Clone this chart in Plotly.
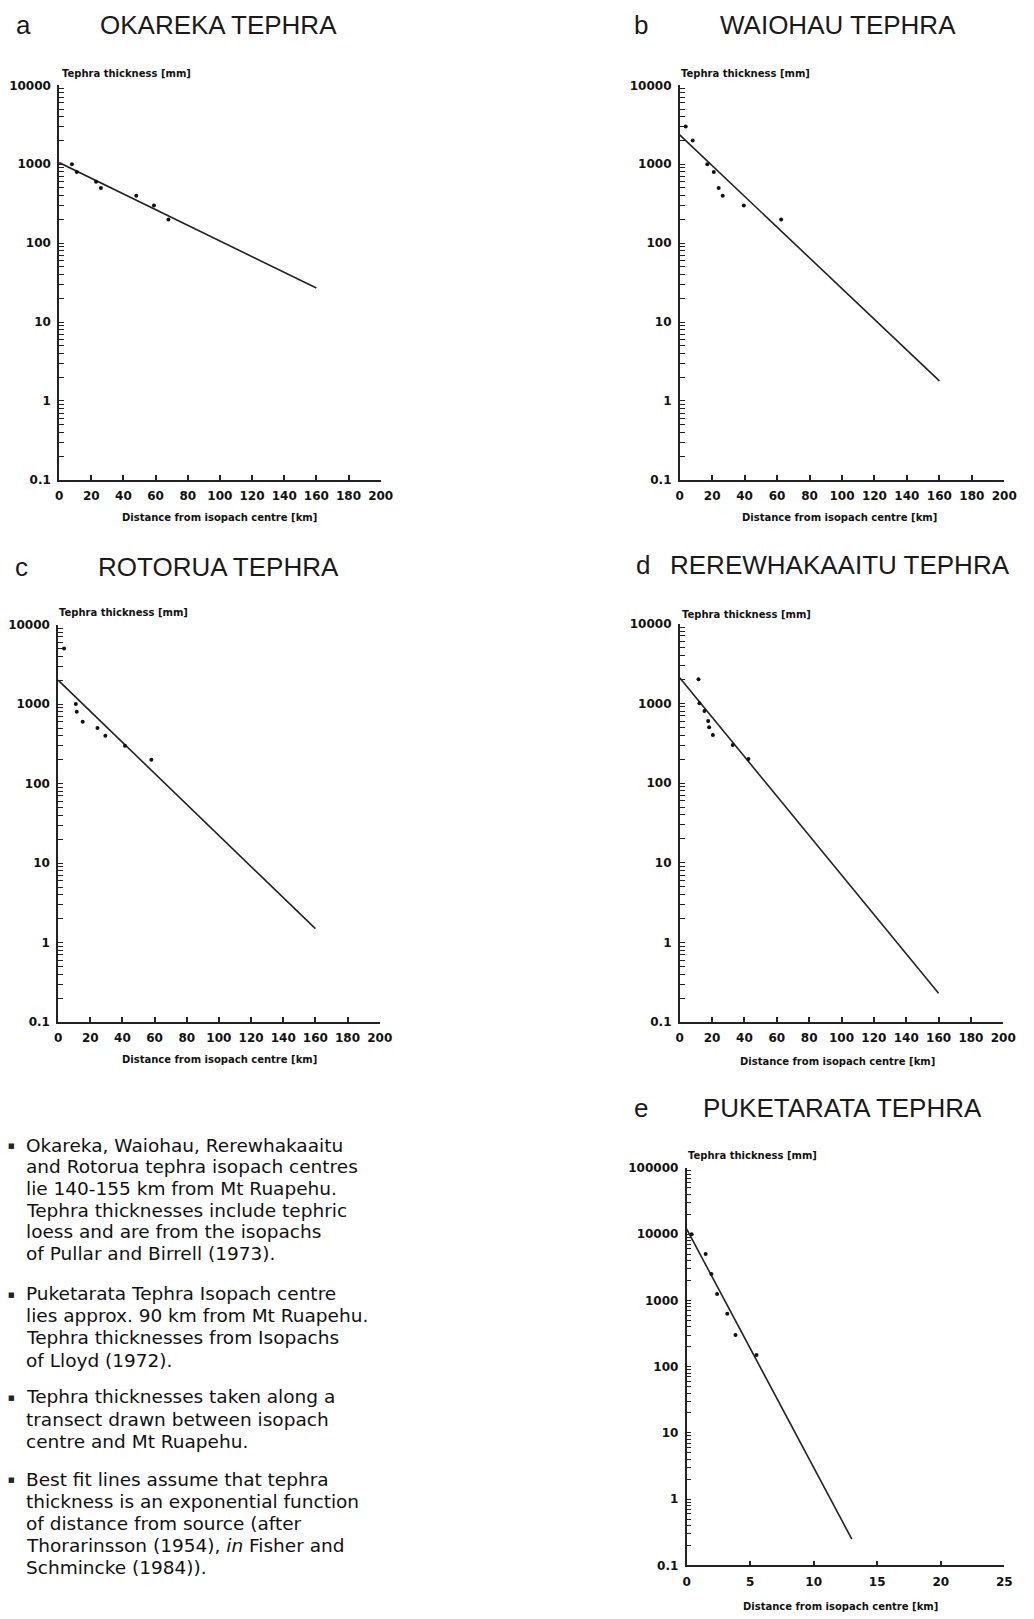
import plotly.graph_objects as go

W, H = 1034, 1619

# ---------------- data ----------------
okareka_x = [8, 11, 23, 26, 48, 59, 68]
okareka_y = [1000, 800, 600, 500, 400, 300, 200]
okareka_fit_x = [0, 160]
okareka_fit_y = [1050, 27]

waiohau_x = [3.7, 8, 17, 21, 24, 26.5, 39.5, 62.5]
waiohau_y = [3000, 2000, 1000, 800, 500, 400, 300, 200]
waiohau_fit_x = [0, 160]
waiohau_fit_y = [2350, 1.8]

rotorua_x = [3.7, 11, 11.6, 15.3, 24.5, 29.4, 41.6, 58]
rotorua_y = [5000, 1000, 800, 600, 500, 400, 300, 200]
rotorua_fit_x = [0, 160]
rotorua_fit_y = [2000, 1.5]

rerew_x = [11.6, 12.2, 15.3, 17.6, 18.2, 20.5, 32.8, 42.5]
rerew_y = [2000, 1000, 800, 600, 500, 400, 300, 200]
rerew_fit_x = [0, 160]
rerew_fit_y = [2100, 0.23]

puke_x = [0.4, 1.5, 1.95, 2.4, 3.2, 3.85, 5.5]
puke_y = [10000, 5000, 2500, 1250, 630, 300, 150]
puke_fit_x = [0, 13]
puke_fit_y = [12000, 0.25]

letters = ["a", "b", "c", "d", "e"]
titles = ["OKAREKA TEPHRA", "WAIOHAU TEPHRA", "ROTORUA TEPHRA",
          "REREWHAKAAITU TEPHRA", "PUKETARATA TEPHRA"]
y_title = "Tephra thickness [mm]"
x_title = "Distance from isopach centre [km]"

decade_labels = ["0.1", "1", "10", "100", "1000", "10000", "100000"]

para1 = ["Okareka, Waiohau, Rerewhakaaitu",
         "and Rotorua tephra isopach centres",
         "lie 140-155 km from Mt Ruapehu.",
         "Tephra thicknesses include tephric",
         "loess and are from the isopachs",
         "of Pullar and Birrell (1973)."]
para2 = ["Puketarata Tephra Isopach centre",
         "lies approx. 90 km from Mt Ruapehu.",
         "Tephra thicknesses from Isopachs",
         "of Lloyd (1972)."]
para3 = ["Tephra thicknesses taken along a",
         "transect drawn between isopach",
         "centre and Mt Ruapehu."]
para4 = ["Best fit lines assume that tephra",
         "thickness is an exponential function",
         "of distance from source (after",
         "Thorarinsson (1954), <i>in</i> Fisher and",
         "Schmincke (1984))."]

# ---------------- layout geometry (pixels) ----------------
panels = [
    dict(px=(56, 383), py=(79, 477), xr=[0, 200], dt=20, yr=[-1, 4],
         letter=(20, 18), title=(218, 18), ylab=(57, 67), xlab=(219, 515),
         data=(okareka_x, okareka_y, okareka_fit_x, okareka_fit_y)),
    dict(px=(687, 1017), py=(79, 477), xr=[0, 200], dt=20, yr=[-1, 4],
         letter=(648, 18), title=(848, 18), ylab=(686, 67), xlab=(849, 515),
         data=(waiohau_x, waiohau_y, waiohau_fit_x, waiohau_fit_y)),
    dict(px=(55, 382), py=(623, 1024), xr=[0, 200], dt=20, yr=[-1, 4],
         letter=(18, 565), title=(218, 565), ylab=(54, 611), xlab=(219, 1062),
         data=(rotorua_x, rotorua_y, rotorua_fit_x, rotorua_fit_y)),
    dict(px=(687, 1016), py=(622, 1024), xr=[0, 200], dt=20, yr=[-1, 4],
         letter=(650, 563), title=(850, 563), ylab=(687, 613), xlab=(847, 1064),
         data=(rerew_x, rerew_y, rerew_fit_x, rerew_fit_y)),
    dict(px=(694, 1017), py=(1171, 1572), xr=[0, 25], dt=5, yr=[-1, 5],
         letter=(648, 1111), title=(853, 1111), ylab=(693, 1159), xlab=(850, 1613),
         data=(puke_x, puke_y, puke_fit_x, puke_fit_y)),
]


def fx(p):
    return p / W


def fy(p):
    return 1 - p / H


def log_ticks(lo, hi):
    vals, text = [], []
    for e in range(lo, hi + 1):
        vals.append(10.0 ** e)
        text.append(decade_labels[e - lo])
        if e < hi:
            for m in range(2, 10):
                vals.append(m * 10.0 ** e)
                text.append("")
    return vals, text


fig = go.Figure()
annotations = []
tickfont = dict(family="DejaVu Sans", size=12, color="#111", weight="bold")
layout_axes = {}

for i, p in enumerate(panels, start=1):
    xs, ys, fxs, fys = p["data"]
    xa = "x" if i == 1 else f"x{i}"
    ya = "y" if i == 1 else f"y{i}"
    fig.add_trace(go.Scatter(x=fxs, y=fys, mode="lines", xaxis=xa, yaxis=ya,
                             line=dict(color="#222", width=1.6),
                             showlegend=False, hoverinfo="skip"))
    fig.add_trace(go.Scatter(x=xs, y=ys, mode="markers", xaxis=xa, yaxis=ya,
                             marker=dict(color="#111", size=4),
                             showlegend=False))
    xkey = "xaxis" if i == 1 else f"xaxis{i}"
    ykey = "yaxis" if i == 1 else f"yaxis{i}"
    layout_axes[xkey] = dict(
        domain=[fx(p["px"][0]), fx(p["px"][1])], range=p["xr"], anchor=ya,
        tickmode="linear", tick0=0, dtick=p["dt"],
        showline=True, linecolor="#222", linewidth=1.6, mirror=False,
        ticks="inside", ticklen=5, tickwidth=1.5, tickcolor="#222",
        showgrid=False, zeroline=False, tickfont=tickfont,
        ticklabelstandoff=4, fixedrange=True)
    lo, hi = p["yr"]
    tv, tt = log_ticks(lo, hi)
    layout_axes[ykey] = dict(
        domain=[fy(p["py"][1]), fy(p["py"][0])], range=p["yr"], type="log",
        anchor=xa, tickmode="array", tickvals=tv, ticktext=tt,
        showline=True, linecolor="#222", linewidth=1.6,
        ticks="inside", ticklen=5, tickwidth=1.3, tickcolor="#222",
        showgrid=False, zeroline=False, tickfont=tickfont,
        ticklabelstandoff=4, fixedrange=True)

    lx, ly = p["letter"]
    annotations.append(dict(text=letters[i - 1], x=fx(lx), y=fy(ly),
                            xref="paper", yref="paper", showarrow=False,
                            xanchor="center", yanchor="middle",
                            font=dict(family="Liberation Sans", size=26, color="#1a1a1a")))
    tx, ty = p["title"]
    annotations.append(dict(text=titles[i - 1], x=fx(tx), y=fy(ty),
                            xref="paper", yref="paper", showarrow=False,
                            xanchor="center", yanchor="middle",
                            font=dict(family="Liberation Sans", size=26, color="#1a1a1a")))
    yx, yy = p["ylab"]
    annotations.append(dict(text=y_title, x=fx(yx), y=fy(yy),
                            xref="paper", yref="paper", showarrow=False,
                            xanchor="left", yanchor="middle",
                            font=dict(family="DejaVu Sans", size=10, color="#111",
                                      weight="bold")))
    xx, xy = p["xlab"]
    annotations.append(dict(text=x_title, x=fx(xx), y=fy(xy),
                            xref="paper", yref="paper", showarrow=False,
                            xanchor="center", yanchor="middle",
                            font=dict(family="DejaVu Sans", size=10, color="#111",
                                      weight="bold")))

# text block
blocks = [(para1, 1148, 21.9), (para2, 1298, 22.3), (para3, 1402, 22.5),
          (para4, 1485, 22.2)]
for lines, y0, dy in blocks:
    annotations.append(dict(text="■", x=fx(8), y=fy(y0 + 1), xref="paper",
                            yref="paper", showarrow=False, xanchor="center",
                            yanchor="middle",
                            font=dict(family="DejaVu Sans", size=7, color="#222")))
    for k, line in enumerate(lines):
        annotations.append(dict(text=line, x=fx(20), y=fy(y0 + k * dy),
                                xref="paper", yref="paper", showarrow=False,
                                xanchor="left", yanchor="middle",
                                font=dict(family="DejaVu Sans", size=18.5,
                                          color="#111")))

fig.update_layout(width=W, height=H, margin=dict(l=0, r=0, t=0, b=0),
                  paper_bgcolor="white", plot_bgcolor="white",
                  annotations=annotations, showlegend=False, **layout_axes)

fig.write_html("out.html", config={"displayModeBar": False})
